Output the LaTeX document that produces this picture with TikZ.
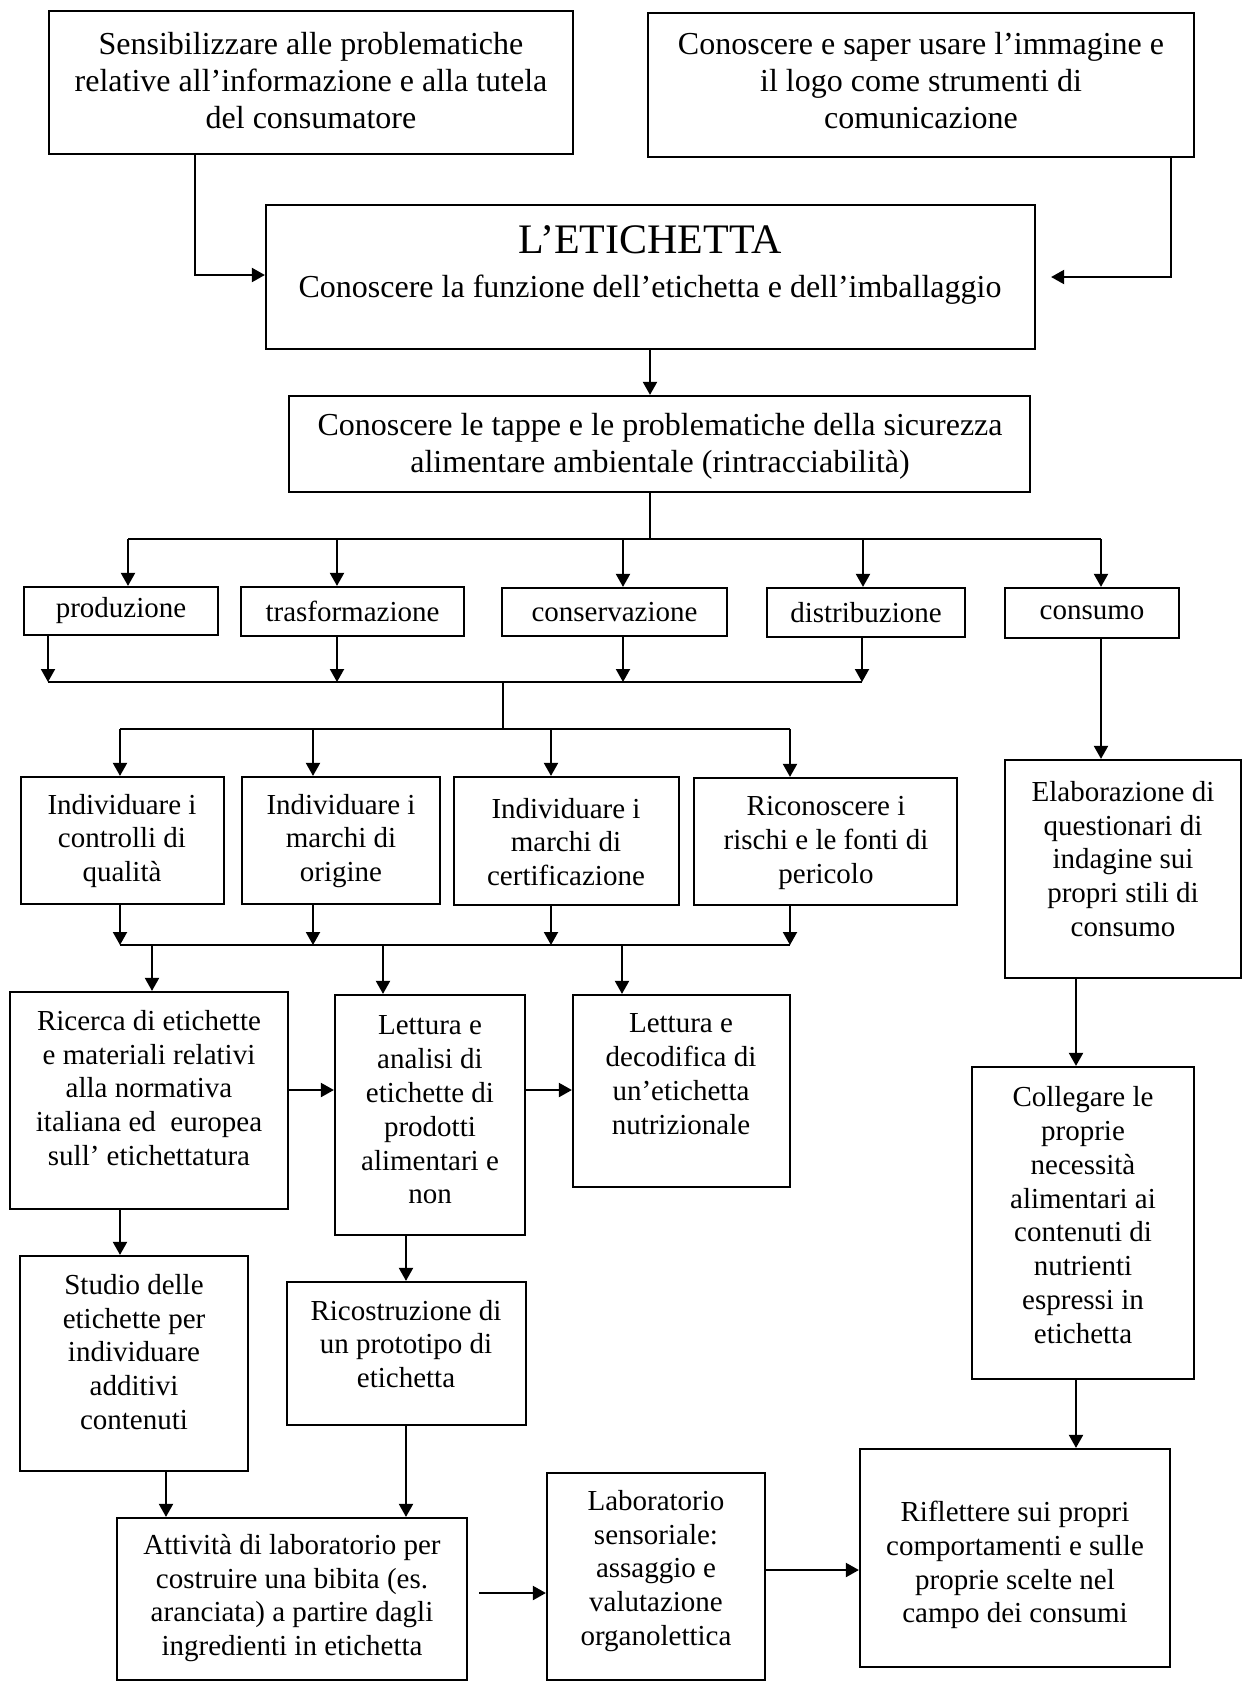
\documentclass[tikz,border=0pt]{standalone}
\usepackage{fontspec}
\setmainfont{Liberation Serif}
\usetikzlibrary{arrows.meta}
% empty framed box given by its corners (x1,y1)-(x2,y2)
\newcommand\boxat[5]{\node[bx,minimum width={(#4-#2)*0.5pt},minimum height={(#5-#3)*0.5pt}] (#1) at ({(#2+#4)/2},{(#3+#5)/2}) {};}
\begin{document}
\begin{tikzpicture}[x=0.5pt,y=-0.5pt,
  bx/.style={draw,line width=1.1pt,inner sep=0pt,rectangle},
  txt/.style={align=center,inner sep=0pt,font=\fontsize{14.5}{16.9}\selectfont},
  bigtxt/.style={align=center,inner sep=0pt,font=\fontsize{16}{18.5}\selectfont},
  ln/.style={line width=1pt},
  arr/.style={ln,-{Triangle[length=6.5pt,width=7pt]}}]
\useasboundingbox (0,0) rectangle (1244,1683);

% ---------- boxes ----------
\boxat{sens}{49}{11}{573}{154}
\boxat{logo}{648}{13}{1194}{157}
\boxat{etic}{266}{205}{1035}{349}
\boxat{tappe}{289}{396}{1030}{492}
\boxat{prod}{24}{587}{218}{635}
\boxat{trasf}{241}{587}{464}{636}
\boxat{cons}{502}{588}{727}{636}
\boxat{distr}{767}{588}{965}{637}
\boxat{consumo}{1005}{588}{1179}{638}
\boxat{qual}{21}{777}{224}{904}
\boxat{orig}{242}{777}{440}{904}
\boxat{cert}{454}{777}{679}{905}
\boxat{rischi}{694}{778}{957}{905}
\boxat{quest}{1005}{760}{1241}{978}
\boxat{ricerca}{10}{992}{288}{1209}
\boxat{analisi}{335}{995}{525}{1235}
\boxat{nutriz}{573}{995}{790}{1187}
\boxat{colleg}{972}{1067}{1194}{1379}
\boxat{studio}{20}{1256}{248}{1471}
\boxat{proto}{287}{1282}{526}{1425}
\boxat{bibita}{117}{1518}{467}{1680}
\boxat{senso}{547}{1473}{765}{1680}
\boxat{rifl}{860}{1449}{1170}{1667}

% ---------- texts ----------
\node[bigtxt] (sens-t) at (311,81) {Sensibilizzare alle problematiche\\relative all’informazione e alla tutela\\del consumatore};
\node[bigtxt] (logo-t) at (921,81) {Conoscere e saper usare l’immagine e\\il logo come strumenti di\\comunicazione};
\node[inner sep=0pt,font=\fontsize{21}{24}\selectfont] (etic-t) at (650,240) {L’ETICHETTA};
\node[bigtxt] (etic-s) at (650,290) {Conoscere la funzione dell’etichetta e dell’imballaggio};
\node[bigtxt] (tappe-t) at (660,446) {Conoscere le tappe e le problematiche della sicurezza\\alimentare ambientale (rintracciabilità)};
\node[txt] (prod-t) at (prod) {produzione};
\node[txt] (trasf-t) at (trasf) {trasformazione};
\node[txt] (cons-t) at (cons) {conservazione};
\node[txt] (distr-t) at (distr) {distribuzione};
\node[txt] (consumo-t) at (consumo) {consumo};
\node[txt] (qual-t) at (122,841) {Individuare i\\controlli di\\qualità};
\node[txt] (orig-t) at (341,841) {Individuare i\\marchi di\\origine};
\node[txt] (cert-t) at (566,842) {Individuare i\\marchi di\\certificazione};
\node[txt] (rischi-t) at (826,843) {Riconoscere i\\rischi e le fonti di\\pericolo};
\node[txt] (quest-t) at (1123,859) {Elaborazione di\\questionari di\\indagine sui\\propri stili di\\consumo};
\node[txt] (ricerca-t) at (149,1088) {Ricerca di etichette\\e materiali relativi\\alla normativa\\italiana ed \ europea\\sull’ etichettatura};
\node[txt] (analisi-t) at (430,1110) {Lettura e\\analisi di\\etichette di\\prodotti\\alimentari e\\non};
\node[txt] (nutriz-t) at (681,1074) {Lettura e\\decodifica di\\un’etichetta\\nutrizionale};
\node[txt] (colleg-t) at (1083,1215) {Collegare le\\proprie\\necessità\\alimentari ai\\contenuti di\\nutrienti\\espressi in\\etichetta};
\node[txt] (studio-t) at (134,1352) {Studio delle\\etichette per\\individuare\\additivi\\contenuti};
\node[txt] (proto-t) at (406,1344) {Ricostruzione di\\un prototipo di\\etichetta};
\node[txt] (bibita-t) at (292,1598) {Attività di laboratorio per\\costruire una bibita (es.\\aranciata) a partire dagli\\ingredienti in etichetta};
\node[txt] (senso-t) at (656,1571) {Laboratorio\\sensoriale:\\assaggio e\\valutazione\\organolettica};
\node[txt] (rifl-t) at (1015,1565) {Riflettere sui propri\\comportamenti e sulle\\proprie scelte nel\\campo dei consumi};

% ---------- lanes and bus points ----------
\coordinate (jA) at (195,275);
\coordinate (jB) at (1171,277);
\coordinate (xE) at (650,0);
% bus below the "tappe" box
\coordinate (pc) at (650,539);
\coordinate (p1) at (128,539);
\coordinate (p2) at (337,539);
\coordinate (p3) at (623,539);
\coordinate (p4) at (863,539);
\coordinate (p5) at (1101,539);
% bus collecting the stages
\coordinate (q1) at (48,682);
\coordinate (q2) at (337,682);
\coordinate (q3) at (623,682);
\coordinate (q4) at (862,682);
\coordinate (qc) at (503,682);
% bus feeding the "Individuare" row
\coordinate (rc) at (503,729);
\coordinate (r1) at (120,729);
\coordinate (r2) at (313,729);
\coordinate (r3) at (551,729);
\coordinate (r4) at (790,729);
% bus collecting the "Individuare" row
\coordinate (s1) at (120,945);
\coordinate (s2) at (313,945);
\coordinate (s3) at (551,945);
\coordinate (s4) at (790,945);
\coordinate (t1) at (152,945);
\coordinate (t2) at (383,945);
\coordinate (t3) at (622,945);
% single vertical and horizontal lanes
\coordinate (u1) at (1101,0);
\coordinate (u2) at (1076,0);
\coordinate (w1) at (120,0);
\coordinate (w2) at (406,0);
\coordinate (w3) at (166,0);
\coordinate (v1) at (0,1090);
\coordinate (v2) at (0,1593);
\coordinate (v3) at (0,1570);

% ---------- connectors ----------
\draw[arr] (sens.south -| jA) |- (etic.west |- jA);
\draw[arr,shorten >=7.5pt] (logo.south -| jB) |- (etic.east |- jB);
\draw[arr] (etic.south -| xE) -- (tappe.north -| xE);

\draw[ln] (tappe.south -| pc) -- (pc);
\draw[ln] (p1) -- (p5);
\foreach \c/\n in {p1/prod,p2/trasf,p3/cons,p4/distr,p5/consumo}
  \draw[arr] (\c) -- (\n.north -| \c);

\foreach \c/\n in {q1/prod,q2/trasf,q3/cons,q4/distr}
  \draw[arr] (\n.south -| \c) -- (\c);
\draw[ln] (q1) -- (q4);
\draw[ln] (qc) -- (rc);
\draw[ln] (r1) -- (r4);
\foreach \c/\n in {r1/qual,r2/orig,r3/cert,r4/rischi}
  \draw[arr] (\c) -- (\n.north -| \c);

\foreach \c/\n in {s1/qual,s2/orig,s3/cert,s4/rischi}
  \draw[arr] (\n.south -| \c) -- (\c);
\draw[ln] (s1) -- (s4);
\foreach \c/\n in {t1/ricerca,t2/analisi,t3/nutriz}
  \draw[arr] (\c) -- (\n.north -| \c);

\draw[arr] (consumo.south -| u1) -- (quest.north -| u1);
\draw[arr] (quest.south -| u2) -- (colleg.north -| u2);
\draw[arr] (colleg.south -| u2) -- (rifl.north -| u2);

\draw[arr] (ricerca.east |- v1) -- (analisi.west |- v1);
\draw[arr] (analisi.east |- v1) -- (nutriz.west |- v1);
\draw[arr] (ricerca.south -| w1) -- (studio.north -| w1);
\draw[arr] (analisi.south -| w2) -- (proto.north -| w2);
\draw[arr] (studio.south -| w3) -- (bibita.north -| w3);
\draw[arr] (proto.south -| w2) -- (bibita.north -| w2);
\draw[arr,shorten <=5.5pt] (bibita.east |- v2) -- (senso.west |- v2);
\draw[arr] (senso.east |- v3) -- (rifl.west |- v3);
\end{tikzpicture}
\end{document}
